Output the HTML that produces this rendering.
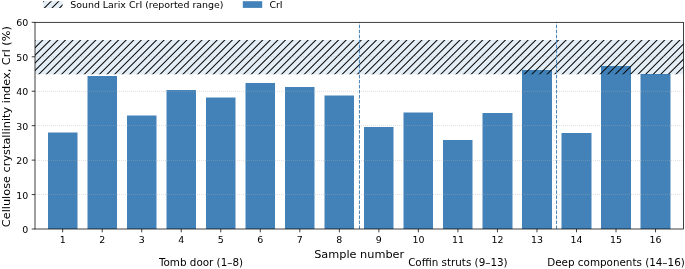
<!DOCTYPE html>
<html lang="en"><head><meta charset="utf-8"><title>Cellulose crystallinity index</title>
<style>html,body{margin:0;padding:0;background:#fff}svg{display:block}text{font-family:"DejaVu Sans","Liberation Sans",sans-serif;fill:#000}</style>
</head><body>
<svg width="685" height="269" viewBox="0 0 685 269">
<defs>
<clipPath id="band"><rect x="35.0" y="40.00" width="648.40" height="34.30"/></clipPath>
<clipPath id="lg1"><rect x="43.1" y="1.2" width="19.5" height="6.7"/></clipPath>
</defs>
<rect width="685" height="269" fill="#fff"/>
<g fill="#4282b8">
<rect x="48.0" y="132.5" width="29.5" height="96.50"/>
<rect x="87.5" y="76.0" width="29.5" height="153.00"/>
<rect x="127.0" y="115.5" width="29.5" height="113.50"/>
<rect x="166.5" y="90.0" width="29.5" height="139.00"/>
<rect x="206.0" y="97.5" width="29.5" height="131.50"/>
<rect x="245.5" y="83.0" width="29.5" height="146.00"/>
<rect x="285.0" y="87.0" width="29.5" height="142.00"/>
<rect x="324.5" y="95.5" width="29.5" height="133.50"/>
<rect x="364.0" y="127.0" width="29.5" height="102.00"/>
<rect x="403.5" y="112.5" width="29.5" height="116.50"/>
<rect x="443.0" y="140.0" width="29.5" height="89.00"/>
<rect x="482.5" y="113.0" width="30.0" height="116.00"/>
<rect x="522.0" y="70.0" width="30.0" height="159.00"/>
<rect x="561.5" y="133.0" width="30.0" height="96.00"/>
<rect x="601.0" y="66.0" width="30.0" height="163.00"/>
<rect x="640.5" y="74.0" width="30.0" height="155.00"/>
</g>
<rect x="35.0" y="40.00" width="648.40" height="34.30" fill="#1f77b4" fill-opacity="0.12"/>
<path clip-path="url(#band)" d="M-0.13,75.30L36.17,39.00M7.45,75.30L43.75,39.00M15.04,75.30L51.34,39.00M22.62,75.30L58.92,39.00M30.21,75.30L66.51,39.00M37.79,75.30L74.09,39.00M45.38,75.30L81.68,39.00M52.96,75.30L89.26,39.00M60.55,75.30L96.84,39.00M68.13,75.30L104.43,39.00M75.72,75.30L112.02,39.00M83.30,75.30L119.60,39.00M90.89,75.30L127.19,39.00M98.47,75.30L134.77,39.00M106.06,75.30L142.36,39.00M113.64,75.30L149.94,39.00M121.23,75.30L157.53,39.00M128.81,75.30L165.11,39.00M136.39,75.30L172.69,39.00M143.98,75.30L180.28,39.00M151.56,75.30L187.87,39.00M159.15,75.30L195.45,39.00M166.74,75.30L203.03,39.00M174.32,75.30L210.62,39.00M181.90,75.30L218.20,39.00M189.49,75.30L225.79,39.00M197.07,75.30L233.38,39.00M204.66,75.30L240.96,39.00M212.24,75.30L248.54,39.00M219.83,75.30L256.13,39.00M227.41,75.30L263.71,39.00M235.00,75.30L271.30,39.00M242.58,75.30L278.88,39.00M250.17,75.30L286.47,39.00M257.75,75.30L294.05,39.00M265.34,75.30L301.64,39.00M272.92,75.30L309.22,39.00M280.51,75.30L316.81,39.00M288.09,75.30L324.39,39.00M295.68,75.30L331.98,39.00M303.26,75.30L339.56,39.00M310.85,75.30L347.15,39.00M318.43,75.30L354.73,39.00M326.02,75.30L362.32,39.00M333.60,75.30L369.90,39.00M341.19,75.30L377.49,39.00M348.77,75.30L385.07,39.00M356.36,75.30L392.66,39.00M363.94,75.30L400.24,39.00M371.53,75.30L407.83,39.00M379.11,75.30L415.41,39.00M386.70,75.30L423.00,39.00M394.28,75.30L430.58,39.00M401.87,75.30L438.17,39.00M409.45,75.30L445.75,39.00M417.04,75.30L453.34,39.00M424.62,75.30L460.92,39.00M432.21,75.30L468.51,39.00M439.80,75.30L476.10,39.00M447.38,75.30L483.68,39.00M454.96,75.30L491.26,39.00M462.55,75.30L498.85,39.00M470.13,75.30L506.43,39.00M477.72,75.30L514.02,39.00M485.31,75.30L521.61,39.00M492.89,75.30L529.19,39.00M500.47,75.30L536.77,39.00M508.06,75.30L544.36,39.00M515.64,75.30L551.94,39.00M523.23,75.30L559.53,39.00M530.82,75.30L567.12,39.00M538.40,75.30L574.70,39.00M545.99,75.30L582.28,39.00M553.57,75.30L589.87,39.00M561.15,75.30L597.45,39.00M568.74,75.30L605.04,39.00M576.33,75.30L612.62,39.00M583.91,75.30L620.21,39.00M591.50,75.30L627.79,39.00M599.08,75.30L635.38,39.00M606.66,75.30L642.96,39.00M614.25,75.30L650.55,39.00M621.84,75.30L658.13,39.00M629.42,75.30L665.72,39.00M637.00,75.30L673.30,39.00M644.59,75.30L680.89,39.00M652.18,75.30L688.48,39.00M659.76,75.30L696.06,39.00M667.35,75.30L703.64,39.00M674.93,75.30L711.23,39.00" stroke="#0a0a0a" stroke-width="1.05" fill="none"/>
<g stroke="#b0b0b0" stroke-opacity="0.5" stroke-width="0.85" stroke-dasharray="0.9 1.1" fill="none">
<path d="M35.05,194.5 H683.4"/>
<path d="M35.05,160.45 H683.4"/>
<path d="M35.05,125.5 H683.4"/>
<path d="M35.05,91.4 H683.4"/>
<path d="M35.05,56.8 H683.4"/>
</g>
<g stroke="#4682b4" stroke-width="1.0" stroke-dasharray="3.52 1.5" fill="none">
<path d="M359.45,229.0 V22.33"/>
<path d="M556.55,229.0 V22.33"/>
</g>
<g stroke="#000" stroke-width="0.75" fill="none">
<path d="M62.67,229.0 v3.3"/>
<path d="M102.19,229.0 v3.3"/>
<path d="M141.72,229.0 v3.3"/>
<path d="M181.24,229.0 v3.3"/>
<path d="M220.77,229.0 v3.3"/>
<path d="M260.29,229.0 v3.3"/>
<path d="M299.82,229.0 v3.3"/>
<path d="M339.34,229.0 v3.3"/>
<path d="M378.87,229.0 v3.3"/>
<path d="M418.39,229.0 v3.3"/>
<path d="M457.92,229.0 v3.3"/>
<path d="M497.44,229.0 v3.3"/>
<path d="M536.97,229.0 v3.3"/>
<path d="M576.49,229.0 v3.3"/>
<path d="M616.02,229.0 v3.3"/>
<path d="M655.54,229.0 v3.3"/>
<path d="M35.0,229.00 h-3.3"/>
<path d="M35.0,194.56 h-3.3"/>
<path d="M35.0,160.11 h-3.3"/>
<path d="M35.0,125.66 h-3.3"/>
<path d="M35.0,91.22 h-3.3"/>
<path d="M35.0,56.78 h-3.3"/>
<path d="M35.0,22.33 h-3.3"/>
</g>
<rect x="35.0" y="22.33" width="648.40" height="206.67" fill="none" stroke="#000" stroke-width="0.75"/>
<g font-size="9.45" text-anchor="middle">
<text x="62.67" y="243.4">1</text>
<text x="102.19" y="243.4">2</text>
<text x="141.72" y="243.4">3</text>
<text x="181.24" y="243.4">4</text>
<text x="220.77" y="243.4">5</text>
<text x="260.29" y="243.4">6</text>
<text x="299.82" y="243.4">7</text>
<text x="339.34" y="243.4">8</text>
<text x="378.87" y="243.4">9</text>
<text x="418.39" y="243.4">10</text>
<text x="457.92" y="243.4">11</text>
<text x="497.44" y="243.4">12</text>
<text x="536.97" y="243.4">13</text>
<text x="576.49" y="243.4">14</text>
<text x="616.02" y="243.4">15</text>
<text x="655.54" y="243.4">16</text>
</g>
<g font-size="9.45" text-anchor="end">
<text x="28.3" y="232.95">0</text>
<text x="28.3" y="198.50">10</text>
<text x="28.3" y="164.06">20</text>
<text x="28.3" y="129.61">30</text>
<text x="28.3" y="95.17">40</text>
<text x="28.3" y="60.73">50</text>
<text x="28.3" y="26.28">60</text>
</g>
<text x="359.20" y="258.2" font-size="11.3" text-anchor="middle">Sample number</text>
<text transform="translate(10.0,126.66) rotate(-90)" font-size="11.3" text-anchor="middle">Cellulose crystallinity index, CrI (%)</text>
<g font-size="10.36" text-anchor="middle">
<text x="201.00" y="266.2">Tomb door (1–8)</text>
<text x="457.92" y="266.2">Coffin struts (9–13)</text>
<text x="616.02" y="266.2">Deep components (14–16)</text>
</g>
<rect x="43.1" y="1.2" width="19.5" height="6.7" fill="#1f77b4" fill-opacity="0.12"/>
<path clip-path="url(#lg1)" d="M35.92,8.90L44.62,0.20M43.51,8.90L52.21,0.20M51.09,8.90L59.79,0.20M58.68,8.90L67.38,0.20" stroke="#0a0a0a" stroke-width="1.05" fill="none"/>
<rect x="242.8" y="1.2" width="19.4" height="6.7" fill="#4282b8"/>
<text x="70.2" y="8.3" font-size="9.43">Sound Larix CrI (reported range)</text>
<text x="269.4" y="8.3" font-size="9.43">CrI</text>
</svg>
</body></html>
